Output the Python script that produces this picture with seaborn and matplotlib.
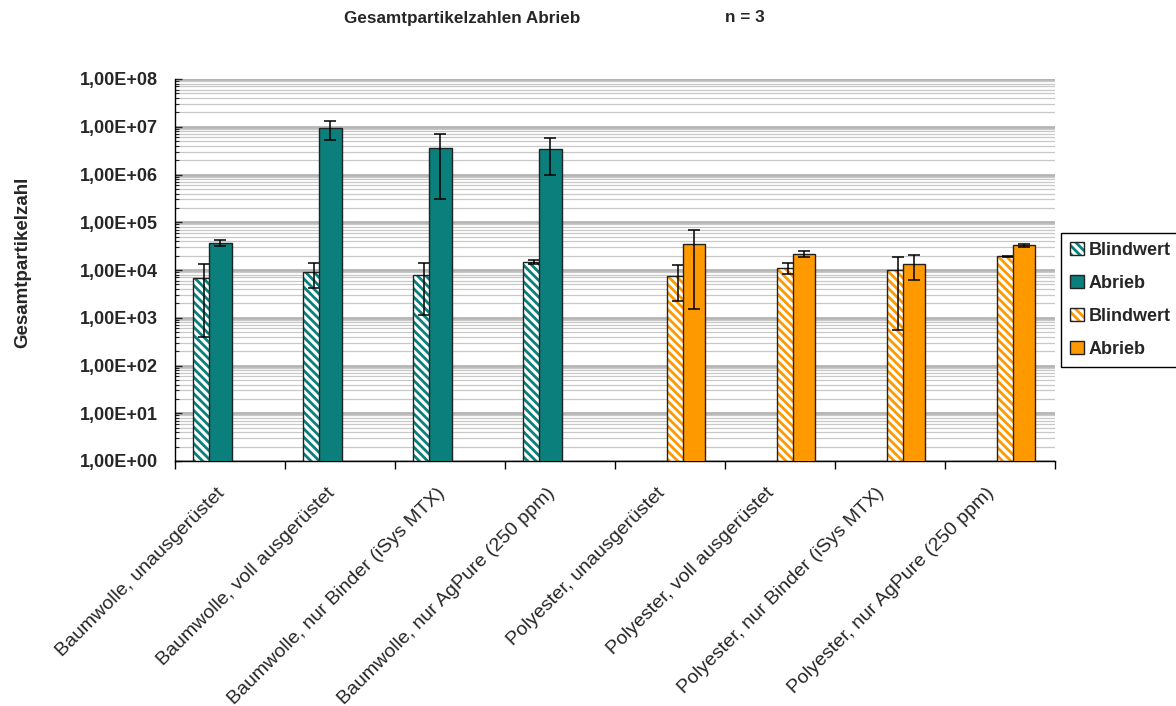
import numpy as np
import matplotlib
matplotlib.use("Agg")
import matplotlib.pyplot as plt
from matplotlib.patches import Patch, Rectangle
from matplotlib.legend_handler import HandlerTuple
from matplotlib.ticker import LogLocator, FixedLocator, NullFormatter, FuncFormatter
from matplotlib.transforms import ScaledTranslation
import seaborn as sns

# Categories (fabric / treatment)
categories = [
    "Baumwolle, unausgerüstet",
    "Baumwolle, voll ausgerüstet",
    "Baumwolle, nur Binder (iSys MTX)",
    "Baumwolle, nur AgPure (250 ppm)",
    "Polyester, unausgerüstet",
    "Polyester, voll ausgerüstet",
    "Polyester, nur Binder (iSys MTX)",
    "Polyester, nur AgPure (250 ppm)",
]

# Cotton: blank value and abrasion, mean and standard deviation (n = 3)
bw_blind = [6900, 8950, 7750, 14500]
bw_blind_err = [6500, 4800, 6600, 1400]
bw_abrieb = [37500, 9.4e6, 3.6e6, 3.4e6]
bw_abrieb_err = [5000, 4.0e6, 3.3e6, 2.4e6]

# Polyester: blank value and abrasion, mean and standard deviation (n = 3)
pe_blind = [7400, 11200, 9850, 19400]
pe_blind_err = [5200, 2900, 9300, 600]
pe_abrieb = [35500, 22000, 13300, 33000]
pe_abrieb_err = [34000, 3000, 7000, 2600]

legend_labels = ["Blindwert", "Abrieb", "Blindwert", "Abrieb"]

sns.set_style("white")
plt.rcParams["font.family"] = ["Liberation Sans", "DejaVu Sans"]
plt.rcParams["hatch.linewidth"] = 2.0

TEAL = "#0b7f7b"
ORANGE = "#ff9900"
EDGE = "#222222"
HATCH = "\\\\\\\\"

W, H = 1176, 706
fig = plt.figure(figsize=(W / 100, H / 100), dpi=100)
ax = fig.add_axes([175 / W, 1 - 461 / H, 880 / W, 382 / H])
ax.set_yscale("log")

BAR_W = 0.205
series = [
    (np.arange(4) + 0.263, bw_blind, bw_blind_err, TEAL, True, 2),
    (np.arange(4) + 0.412, bw_abrieb, bw_abrieb_err, TEAL, False, 4),
    (np.arange(4, 8) + 0.575, pe_blind, pe_blind_err, ORANGE, True, 2),
    (np.arange(4, 8) + 0.720, pe_abrieb, pe_abrieb_err, ORANGE, False, 4),
]

for pos, vals, err, color, hatched, z in series:
    n0 = len(ax.patches)
    sns.barplot(x=pos, y=vals, native_scale=True, orient="x", width=BAR_W,
                errorbar=None, color=color, ax=ax)
    bars = list(ax.patches[n0:])
    for b in bars:
        b.set_zorder(z)
        if hatched:
            b.set_facecolor("white")
            b.set_edgecolor(color)
            b.set_linewidth(0)
            b.set_hatch(HATCH)
            ax.add_patch(Rectangle(b.get_xy(), b.get_width(), b.get_height(),
                                   fill=False, ec=EDGE, lw=1.0, zorder=z + 0.1))
        else:
            b.set_facecolor(color)
            b.set_edgecolor(EDGE)
            b.set_linewidth(1.0)
    ax.errorbar(pos, vals, yerr=err, fmt="none", ecolor="black",
                elinewidth=1.1, capsize=4.5, capthick=1.1, zorder=z + 0.5)

# y axis: logarithmic, Excel-style labels
ax.set_ylim(1, 1e8)
ax.yaxis.set_major_locator(LogLocator(base=10, numticks=20))
ax.yaxis.set_minor_locator(LogLocator(base=10, subs=np.arange(2, 10), numticks=100))
ax.yaxis.set_major_formatter(FuncFormatter(lambda v, p: f"1,00E+{int(round(np.log10(v))):02d}"))
ax.yaxis.set_minor_formatter(NullFormatter())
ax.tick_params(axis="y", which="major", direction="in", left=True, length=5,
               width=1, pad=12, labelsize=13)
ax.tick_params(axis="y", which="minor", direction="in", left=True, length=3, width=0.8)
for lbl in ax.get_yticklabels():
    lbl.set_fontweight("bold")

ax.grid(which="major", axis="y", color="#b4b4b4", lw=2.0)
ax.grid(which="minor", axis="y", color="#c8c8c8", lw=0.9)
ax.set_axisbelow(True)

# x axis: boundary ticks, labels centred in each category
ax.set_xlim(0, 8)
ax.xaxis.set_major_locator(FixedLocator(range(9)))
ax.xaxis.set_major_formatter(NullFormatter())
ax.set_xticks(np.arange(8) + 0.5, minor=True)
ax.set_xticklabels(categories, minor=True, rotation=45, ha="right",
                   rotation_mode="anchor", fontsize=14)
ax.tick_params(axis="x", which="major", direction="out", bottom=True,
               length=6, width=1, color="black")
ax.tick_params(axis="x", which="minor", bottom=True, length=0, pad=12)
shift = ScaledTranslation(-14 / 100, -7 / 100, fig.dpi_scale_trans)
for lbl in ax.get_xticklabels(minor=True):
    lbl.set_transform(lbl.get_transform() + shift)
ax.set_xlabel("")
ax.set_ylabel("")

for side in ("top", "right"):
    ax.spines[side].set_visible(False)
for side in ("left", "bottom"):
    ax.spines[side].set_color("black")
    ax.spines[side].set_linewidth(1.0)

# Titles and axis label
fig.text(462 / W, 1 - 18 / H, "Gesamtpartikelzahlen Abrieb", ha="center",
         va="center", fontsize=12.3, fontweight="bold")
fig.text(745 / W, 1 - 18 / H, "n = 3", ha="center", va="center",
         fontsize=12.3, fontweight="bold")
fig.text(23 / W, 1 - 262 / H, "Gesamtpartikelzahl", rotation=90, ha="center",
         va="center", fontsize=13.5, fontweight="bold")

# Legend
def hatched_handle(color):
    return (Patch(facecolor="white", edgecolor=color, linewidth=0, hatch=HATCH),
            Patch(facecolor="none", edgecolor=EDGE, linewidth=1.0))

handles = [
    hatched_handle(TEAL),
    Patch(facecolor=TEAL, edgecolor=EDGE, linewidth=1.0),
    hatched_handle(ORANGE),
    Patch(facecolor=ORANGE, edgecolor=EDGE, linewidth=1.0),
]
fig.legend(handles, legend_labels, loc="upper left",
           bbox_to_anchor=(1061 / W, 1 - 233 / H),
           handler_map={tuple: HandlerTuple(ndivide=1)},
           frameon=True, fancybox=False, edgecolor="black", framealpha=1,
           prop={"weight": "bold", "size": 13}, handlelength=0.75,
           handleheight=0.75, handletextpad=0.3, labelspacing=0.88,
           borderpad=0.5, borderaxespad=0)

fig.savefig("out.png", dpi=100)
